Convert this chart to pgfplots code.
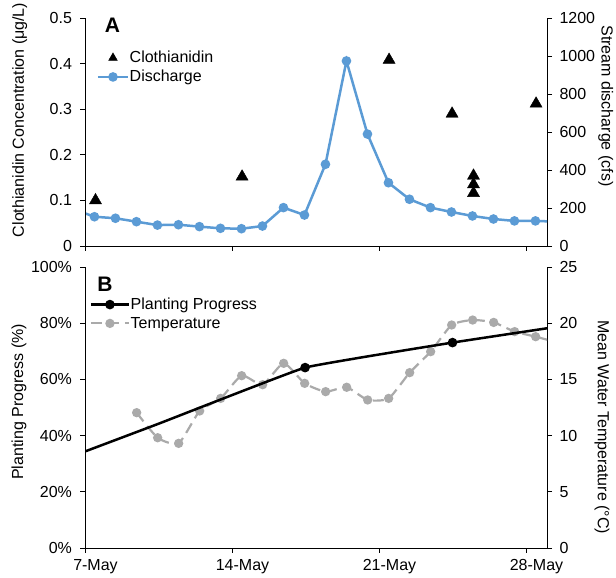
\documentclass[border=0pt]{standalone}
\usepackage{pgfplots}
\pgfplotsset{compat=1.18}
\usepackage{fontspec}
\setmainfont{Liberation Sans}
\definecolor{discharge}{RGB}{91,155,213}
\definecolor{tempgray}{RGB}{170,170,170}
\pgfplotsset{
  base/.style={
    scale only axis, width=462pt,
    xmin=7, xmax=29,
    xtick={7,14,21,28},
    tick align=outside, major tick length=5pt,
    tick style={black, line width=0.8pt},
    axis line style={black, line width=0.8pt},
    /pgf/number format/assume math mode=true,
    /pgf/number format/1000 sep={},
    scaled ticks=false,
    clip=true,
    every tick label/.append style={font=\fontsize{16}{19}\selectfont},
    label style={font=\fontsize{16}{19}\selectfont},
    legend style={font=\fontsize{16}{19}\selectfont, draw=none, fill=none, inner sep=0pt,
      nodes={inner sep=0.5pt}, legend cell align=left, row sep=5pt},
  },
  lefty/.style={yticklabel style={xshift=-4.5pt}},
  righty/.style={yticklabel style={xshift=4pt}},
}
\begin{document}
\begin{tikzpicture}[font=\fontsize{16}{19}\selectfont]
\useasboundingbox (0pt,0pt) rectangle (616pt,578pt);
% ---------- Panel A: discharge (right axis) ----------
\begin{axis}[base, righty,
  at={(85pt,332pt)}, anchor=south west, height=228pt,
  ymin=0, ymax=1200, ytick={0,200,400,600,800,1000,1200},
  axis x line=none, axis y line*=right,
  ylabel={Stream discharge (cfs)},
  every axis y label/.style={at={(rel axis cs:1.127,0.614)}, rotate=-90, anchor=center},
]
\addplot[discharge, line width=2.5pt, mark=*, mark size=3.5pt, mark options={fill=discharge}] coordinates {
(6.45,194) (7.45,154) (8.45,146) (9.45,128) (10.45,110) (11.45,112) (12.45,102)
(13.45,93) (14.45,91) (15.45,105) (16.45,202) (17.45,163) (18.45,430) (19.45,974)
(20.45,589) (21.45,333) (22.45,246) (23.45,202) (24.45,179) (25.45,158) (26.45,142)
(27.45,132) (28.45,132) (29.45,128)
};
\end{axis}
% ---------- Panel A: clothianidin (left axis) ----------
\begin{axis}[base, lefty,
  at={(85pt,332pt)}, anchor=south west, height=228pt,
  ymin=0, ymax=0.5, ytick={0,0.1,0.2,0.3,0.4,0.5},
  yticklabel style={/pgf/number format/fixed, /pgf/number format/precision=1},
  axis x line*=bottom, axis y line*=left,
  xticklabels={},
  ylabel={Clothianidin Concentration (μg/L)},
  every axis y label/.style={at={(rel axis cs:-0.141,0.553)}, rotate=90, anchor=center},
  legend image code/.code={\draw[mark repeat=2,mark phase=2,#1] plot coordinates {(0pt,0pt) (15pt,0pt) (30pt,0pt)};},
  legend style={at={(rel axis cs:0.025,0.857)}, anchor=north west},
]
\addplot[only marks, mark=triangle*, mark size=7pt, black, forget plot] coordinates {
(7.5,0.100) (14.48,0.152) (21.48,0.408) (24.48,0.290)
(25.5,0.154) (25.5,0.135) (25.5,0.116) (28.48,0.312)
};
\addlegendimage{only marks, mark=triangle*, mark size=5pt, black}
\addlegendentry{Clothianidin}
\addlegendimage{discharge, line width=2.5pt, mark=*, mark size=3.5pt, mark options={fill=discharge}}
\addlegendentry{Discharge}
\node[font=\fontsize{21}{24}\selectfont\bfseries] at (rel axis cs:0.0595,0.967) {A};
\end{axis}
% ---------- Panel B: temperature (right axis) ----------
\begin{axis}[base, righty,
  at={(85pt,30pt)}, anchor=south west, height=281pt,
  ymin=0, ymax=25, ytick={0,5,10,15,20,25},
  axis x line=none, axis y line*=right,
  ylabel={Mean Water Temperature (°C)},
  every axis y label/.style={at={(rel axis cs:1.119,0.43)}, rotate=-90, anchor=center},
]
\addplot[tempgray, line width=2.2pt, smooth, tension=0.35, dash pattern=on 11pt off 6pt, mark=*, mark size=3.5pt,
  mark options={solid, fill=tempgray}] coordinates {
(9.46,12.04) (10.46,9.81) (11.46,9.31) (12.46,12.19) (13.46,13.31) (14.46,15.33)
(15.46,14.53) (16.46,16.43) (17.46,14.65) (18.46,13.91) (19.46,14.30) (20.46,13.17)
(21.46,13.31) (22.46,15.60) (23.46,17.47) (24.46,19.84) (25.46,20.28) (26.46,20.07)
(27.46,19.25) (28.46,18.80) (29.46,18.30)
};
\end{axis}
% ---------- Panel B: planting progress (left axis) ----------
\begin{axis}[base, lefty,
  at={(85pt,30pt)}, anchor=south west, height=281pt,
  ymin=0, ymax=100, ytick={0,20,40,60,80,100},
  yticklabel={\pgfmathprintnumber{\tick}\%},
  axis x line*=bottom, axis y line*=left,
  xticklabels={7-May,14-May,21-May,28-May},
  xticklabel style={xshift=10.5pt, yshift=-3pt},
  ylabel={Planting Progress (\%)},
  every axis y label/.style={at={(rel axis cs:-0.143,0.52)}, rotate=90, anchor=center},
  legend image code/.code={\draw[mark repeat=2,mark phase=2,#1] plot coordinates {(0pt,0pt) (19pt,0pt) (38pt,0pt)};},
  legend style={at={(rel axis cs:0.0097,0.892)}, anchor=north west},
]
\addplot[black, line width=2.5pt, smooth, tension=0.15, mark=*, mark size=3.5pt, mark indices={2,3,4}, forget plot] coordinates {
(3.5,24.5) (10.46,44.1) (17.48,64.2) (24.5,73.1) (31.5,81.0)
};
\addlegendimage{black, line width=2.5pt, mark=*, mark size=3.5pt}
\addlegendentry{Planting Progress}
\addlegendimage{tempgray, line width=2.2pt, dash pattern=on 11pt off 6pt, mark=*, mark size=3.5pt, mark options={solid, fill=tempgray}}
\addlegendentry{Temperature}
\node[font=\fontsize{21}{24}\selectfont\bfseries] at (rel axis cs:0.043,0.938) {B};
\end{axis}
\end{tikzpicture}
\end{document}
